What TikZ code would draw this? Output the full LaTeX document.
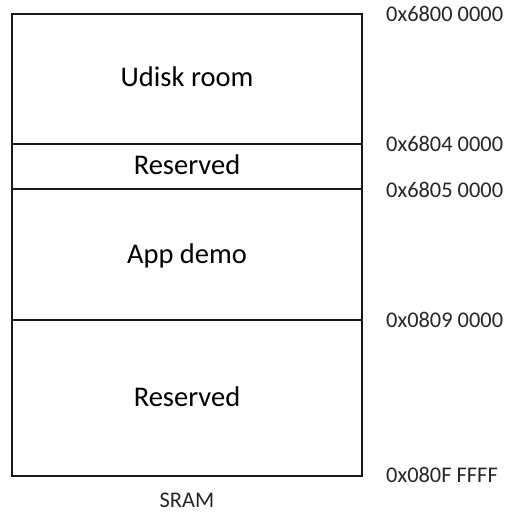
\documentclass[tikz,border=0pt]{standalone}
\usepackage{fontspec}
\setmainfont{Carlito}
\begin{document}
\begin{tikzpicture}[x=1pt,y=-1pt,
  region/.style={font=\fontsize{28.5}{31}\selectfont, anchor=base, inner sep=0pt},
  addr/.style={font=\fontsize{22.4}{24}\selectfont, anchor=base west, inner sep=0pt, text=black!85},
  wall/.style={line width=2.8pt, black!90}]
\useasboundingbox (0,0) rectangle (528,524);
\coordinate (tl) at (12,14);
\coordinate (br) at (362,476);
\draw[wall] (tl) rectangle (br);
\coordinate (l1) at (12,144); \coordinate (r1) at (362,144);
\coordinate (l2) at (12,189); \coordinate (r2) at (362,189);
\coordinate (l3) at (12,320); \coordinate (r3) at (362,320);
\draw[wall] (l1) -- (r1);
\draw[wall] (l2) -- (r2);
\draw[wall] (l3) -- (r3);
\node[region] (udisk) at (187,87) {Udisk room};
\node[region] (res1) at (187,175) {Reserved};
\node[region] (app) at (187,263) {App demo};
\node[region] (res2) at (187,406) {Reserved};
\node[addr] (a1) at (386,22) {0x6800 0000};
\node[addr] (a2) at (386,152) {0x6804 0000};
\node[addr] (a3) at (386,197) {0x6805 0000};
\node[addr] (a4) at (386,327) {0x0809 0000};
\node[addr] (a5) at (386,482) {0x080F FFFF};
\node[addr, anchor=base] (sram) at (187,507) {SRAM};
\end{tikzpicture}
\end{document}
